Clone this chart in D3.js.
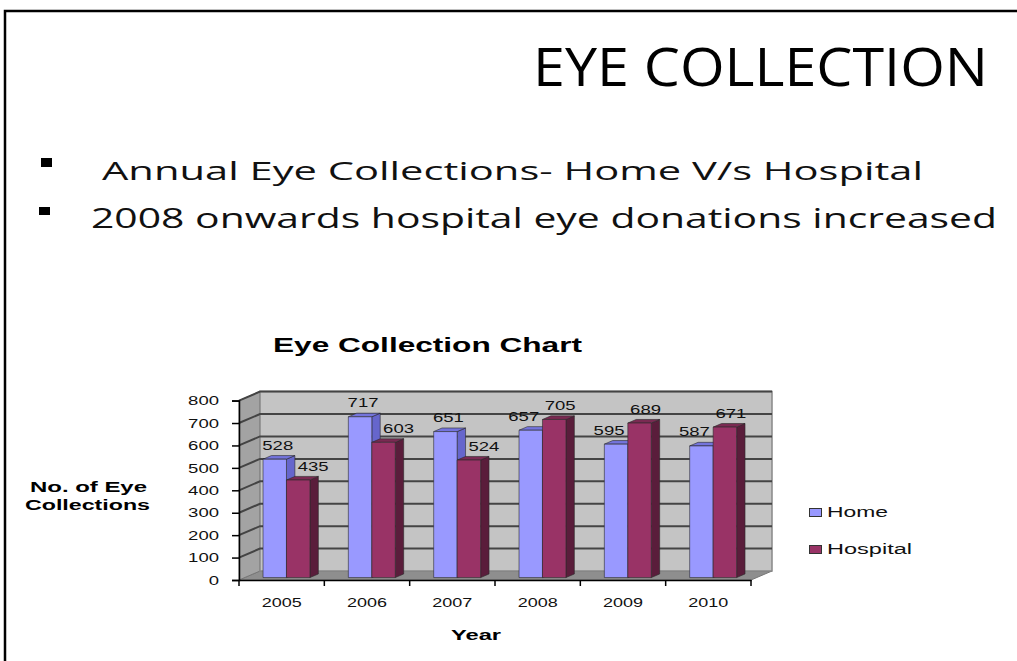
<!DOCTYPE html>
<meta charset="utf-8">
<title>Eye Collection</title>
<head>
    <script src="https://cdn.jsdelivr.net/npm/d3@7"></script>
</head>
<body style="margin: 0px; background: #fff">
<script>

    var years = ["2005", "2006", "2007", "2008", "2009", "2010"];
    var home = [528, 717, 651, 657, 595, 587];
    var hospital = [435, 603, 524, 705, 689, 671];
    var yTicks = [0, 100, 200, 300, 400, 500, 600, 700, 800];
    var seriesNames = ["Home", "Hospital"];
    var bullets = ["Annual  Eye Collections- Home V/s Hospital",
        "2008 onwards hospital eye donations increased"];

    var width = 1017, height = 661;
    // 3d depth offset of the plot box
    var depthX = 21, depthY = -9;
    var barD0 = 0.27, barD1 = 0.67;

    var svg = d3.select("body").append("svg")
            .attr("width", width)
            .attr("height", height);

    // slide frame
    svg.append("path").attr("d", "M5,661 V11 H1017")
            .attr("fill", "none").attr("stroke", "#000").attr("stroke-width", 2.5);

    svg.append("text").attr("x", 533).attr("y", 86)
            .attr("textLength", 455).attr("lengthAdjust", "spacingAndGlyphs")
            .style("font", "53px 'Open Sans'").attr("fill", "#000")
            .text("EYE COLLECTION");

    var bulletPos = [{bx: 41, by: 158, bw: 11, bh: 9, tx: 102, ty: 180, tw: 821, fs: 26},
        {bx: 39, by: 207, bw: 11, bh: 8, tx: 91, ty: 228, tw: 906, fs: 28}];
    bullets.forEach(function (t, i) {
        var p = bulletPos[i];
        svg.append("rect").attr("x", p.bx).attr("y", p.by).attr("width", p.bw).attr("height", p.bh).attr("fill", "#000");
        svg.append("text").attr("x", p.tx).attr("y", p.ty)
                .attr("textLength", p.tw).attr("lengthAdjust", "spacingAndGlyphs")
                .style("font", p.fs + "px 'Open Sans'").attr("fill", "#111")
                .text(t);
    });

    svg.append("text").attr("x", 273).attr("y", 352)
            .attr("textLength", 309).attr("lengthAdjust", "spacingAndGlyphs")
            .style("font", "bold 20px 'Liberation Sans'")
            .text("Eye Collection Chart");

    // scales (front plane)
    var x = d3.scaleBand().domain(years).range([239, 751]);
    var y = d3.scaleLinear().domain([0, 800]).range([580, 400.6]);
    var x2 = d3.scaleBand().domain(seriesNames).range([0.215, 0.765]);

    function pt(px, v, d) {
        return [px + d * depthX, y(v) + d * depthY];
    }
    function poly(pts) {
        return "M" + pts.map(function (p) { return p[0] + "," + p[1]; }).join("L") + "Z";
    }

    var x0 = x.range()[0], x1 = x.range()[1];
    var walls = svg.append("g");
    // floor
    walls.append("path").attr("d", poly([pt(x0, 0, 0), pt(x1, 0, 0), pt(x1, 0, 1), pt(x0, 0, 1)]))
            .attr("fill", "#8e8e8e").attr("stroke", "#777").attr("stroke-width", 1);
    // left wall
    walls.append("path").attr("d", poly([pt(x0, 0, 0), pt(x0, 800, 0), pt(x0, 800, 1), pt(x0, 0, 1)]))
            .attr("fill", "#a3a3a3").attr("stroke", "#777").attr("stroke-width", 1);
    // back wall
    walls.append("path").attr("d", poly([pt(x0, 0, 1), pt(x0, 800, 1), pt(x1, 800, 1), pt(x1, 0, 1)]))
            .attr("fill", "#c4c4c4").attr("stroke", "#888").attr("stroke-width", 1.5);

    // gridlines
    yTicks.filter(function (v) { return v > 0; }).forEach(function (v) {
        walls.append("path")
                .attr("d", "M" + pt(x0, v, 0) + "L" + pt(x0, v, 1) + "L" + pt(x1, v, 1))
                .attr("fill", "none").attr("stroke", "#444").attr("stroke-width", 2);
    });

    // bars
    var colors = {
        Home: {front: "#9999ff", top: "#7474dc", side: "#6666cc"},
        Hospital: {front: "#993366", top: "#7a2a52", side: "#5a1d3b"}
    };
    var bars = svg.append("g");
    years.forEach(function (yr, i) {
        var vals = [home[i], hospital[i]];
        seriesNames.forEach(function (s, j) {
            var v = vals[j];
            var l = x(yr) + x2(s) * x.bandwidth();
            var r = l + x2.bandwidth() * x.bandwidth();
            var c = colors[s];
            var g = bars.append("g").attr("stroke", "#2a2a2a").attr("stroke-width", 0.6).attr("stroke-linejoin", "round");
            g.append("path").attr("d", poly([pt(r, 0, barD0), pt(r, 0, barD1), pt(r, v, barD1), pt(r, v, barD0)]))
                    .attr("fill", c.side);
            g.append("path").attr("d", poly([pt(l, v, barD0), pt(r, v, barD0), pt(r, v, barD1), pt(l, v, barD1)]))
                    .attr("fill", c.top);
            g.append("path").attr("d", poly([pt(l, 0, barD0), pt(r, 0, barD0), pt(r, v, barD0), pt(l, v, barD0)]))
                    .attr("fill", c.front);
        });
    });

    // value labels
    var labels = svg.append("g").style("font", "13px 'Liberation Sans'").attr("fill", "#111");
    years.forEach(function (yr, i) {
        var vals = [home[i], hospital[i]];
        var homeTaller = home[i] >= hospital[i];
        seriesNames.forEach(function (s, j) {
            var v = vals[j];
            var cx = x(yr) + (x2(s) + x2.bandwidth() / 2) * x.bandwidth() + barD0 * depthX;
            var shift = j === 0 ? (homeTaller ? 3 : -7) : (homeTaller ? 15 : 6);
            var top = pt(0, v, barD0)[1];
            var txt = String(v);
            labels.append("text").attr("x", cx + shift - txt.length * 5.15).attr("y", top - 9.5)
                    .attr("textLength", txt.length * 10.3).attr("lengthAdjust", "spacingAndGlyphs")
                    .text(txt);
        });
    });

    // front y axis
    var yAxis = svg.append("g").attr("transform", "translate(" + x0 + ",0)")
            .call(d3.axisLeft(y).tickValues(yTicks).tickSize(7).tickPadding(13).tickFormat(d3.format("d")));
    yAxis.select(".domain").attr("stroke", "#000").attr("stroke-width", 1.5);
    yAxis.selectAll(".tick line").attr("stroke", "#000").attr("stroke-width", 1.5);
    yAxis.selectAll(".tick text")
            .style("font", "13px 'Liberation Sans'").attr("fill", "#111")
            .attr("textLength", function (d) { return String(d).length * 10.3; })
            .attr("lengthAdjust", "spacingAndGlyphs");

    // front x axis
    var xAxis = svg.append("g").attr("transform", "translate(0," + y(0) + ")")
            .call(d3.axisBottom(x).tickSize(0).tickPadding(18));
    xAxis.select(".domain").attr("stroke", "#000").attr("stroke-width", 1.5);
    xAxis.selectAll(".tick text")
            .style("font", "13px 'Liberation Sans'").attr("fill", "#111")
            .attr("textLength", 40).attr("lengthAdjust", "spacingAndGlyphs");
    years.concat([null]).forEach(function (yr, i) {
        var px = yr === null ? x1 : x(yr);
        xAxis.append("line").attr("x1", px).attr("x2", px).attr("y1", 0).attr("y2", 6)
                .attr("stroke", "#000").attr("stroke-width", 1.5);
    });

    // axis titles
    svg.append("text").attr("x", 30).attr("y", 492)
            .attr("textLength", 117).attr("lengthAdjust", "spacingAndGlyphs")
            .style("font", "bold 14px 'Liberation Sans'").text("No. of Eye");
    svg.append("text").attr("x", 25).attr("y", 510)
            .attr("textLength", 125).attr("lengthAdjust", "spacingAndGlyphs")
            .style("font", "bold 14px 'Liberation Sans'").text("Collections");
    svg.append("text").attr("x", 451).attr("y", 640)
            .attr("textLength", 50).attr("lengthAdjust", "spacingAndGlyphs")
            .style("font", "bold 14px 'Liberation Sans'").text("Year");

    // legend
    var legendLen = [61, 85];
    seriesNames.forEach(function (s, j) {
        var ly = 508 + j * 37;
        svg.append("rect").attr("x", 809.5).attr("y", ly + 0.5).attr("width", 12).attr("height", 8)
                .attr("fill", colors[s].front).attr("stroke", "#333").attr("stroke-width", 1);
        svg.append("text").attr("x", 827).attr("y", ly + 9)
                .attr("textLength", legendLen[j]).attr("lengthAdjust", "spacingAndGlyphs")
                .style("font", "14px 'Liberation Sans'").attr("fill", "#111").text(s);
    });

</script>
</body>
